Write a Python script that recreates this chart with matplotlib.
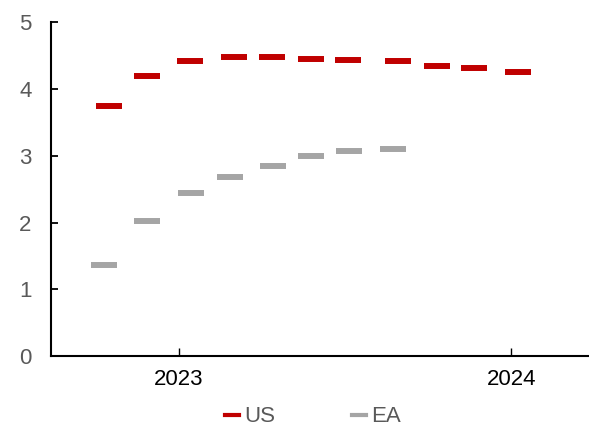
import matplotlib.pyplot as plt
import matplotlib.dates as mdates
from matplotlib.lines import Line2D
import pandas as pd

plt.rcParams['font.family'] = ['Liberation Sans', 'DejaVu Sans']

# US policy rate path
us_dates = ['2022-10-17', '2022-11-27', '2023-01-14', '2023-03-03', '2023-04-14',
            '2023-05-26', '2023-07-06', '2023-08-30', '2023-10-11', '2023-11-21',
            '2024-01-08']
us_vals = [3.75, 4.20, 4.42, 4.48, 4.48, 4.45, 4.44, 4.42, 4.35, 4.31, 4.26]

# EA policy rate path
ea_dates = ['2022-10-11', '2022-11-27', '2023-01-15', '2023-02-26', '2023-04-15',
            '2023-05-26', '2023-07-07', '2023-08-24']
ea_vals = [1.37, 2.03, 2.45, 2.69, 2.85, 3.00, 3.07, 3.10]

us_x = pd.to_datetime(us_dates)
ea_x = pd.to_datetime(ea_dates)

red = '#C00000'
grey = '#A5A5A5'

fig = plt.figure(figsize=(5.89, 4.28), dpi=100)
ax = fig.add_axes([0.0866, 0.1675, 0.9114, 0.7805])

ax.plot(us_x, us_vals, ls='none', marker='_', ms=18.7, mew=4.3, color=red)
ax.plot(ea_x, ea_vals, ls='none', marker='_', ms=18.7, mew=4.3, color=grey)

ax.set_ylim(0, 5)
ax.set_xlim(pd.Timestamp('2022-08-14'), pd.Timestamp('2024-03-25'))
ax.set_yticks(range(0, 6))
ax.xaxis.set_major_locator(mdates.YearLocator())
ax.xaxis.set_major_formatter(mdates.DateFormatter('%Y'))

for s in ['top', 'right']:
    ax.spines[s].set_visible(False)
for s in ['left', 'bottom']:
    ax.spines[s].set_linewidth(1.5)
    ax.spines[s].set_color('black')

ax.tick_params(axis='y', direction='in', length=5, width=1.3,
               labelsize=16, labelcolor='#595959', pad=14)
ax.tick_params(axis='x', direction='in', length=6, width=1,
               labelsize=16, labelcolor='black', pad=9)

handles = [Line2D([], [], color=red, lw=3),
           Line2D([], [], color=grey, lw=3)]
leg = fig.legend(handles, ['US', 'EA'], loc='center', bbox_to_anchor=(0.531, 0.026),
                 ncol=2, frameon=False, fontsize=16, handlelength=0.63,
                 handletextpad=0.23, columnspacing=3.45)
for t in leg.get_texts():
    t.set_color('#595959')

fig.savefig('out.png', dpi=100)
